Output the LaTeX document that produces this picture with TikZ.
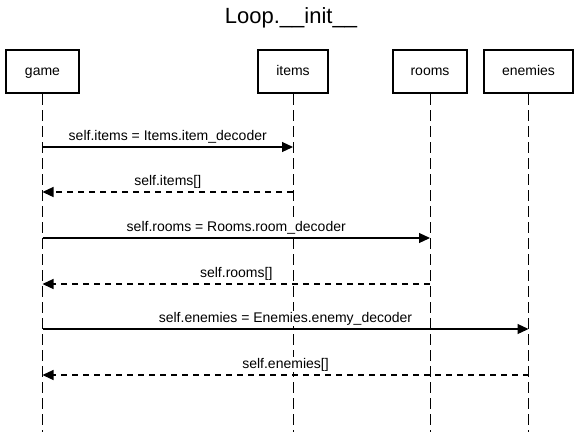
\documentclass[tikz,border=0pt]{standalone}
\usepackage{fontspec}
\setmainfont{Liberation Sans}
\usetikzlibrary{arrows.meta}
\begin{document}
\begin{tikzpicture}[x=1pt,y=-1pt,
  actor/.style={draw, line width=2.3pt, minimum height=43pt, inner sep=0pt, text height=10pt, text depth=3pt, font=\fontsize{14}{16}\selectfont},
  lifeline/.style={line width=1pt, dash pattern=on 11pt off 5pt},
  call/.style={line width=1.2pt, -{Triangle[length=11pt,width=10pt]}},
  reply/.style={line width=1.2pt, dash pattern=on 6pt off 5pt, -{Triangle[length=11pt,width=10pt]}},
  msg/.style={font=\fontsize{14}{16}\selectfont, fill=white, inner sep=1pt, anchor=base, yshift=6.5pt}]
\useasboundingbox (0,0) rectangle (581,432);
\fill[white] (0,0) rectangle (581,432);

\node[font=\fontsize{22}{26}\selectfont, anchor=base, inner sep=0pt] (title) at (291,23) {Loop.\_\_init\_\_};

\node[actor, minimum width=73pt] (game) at (42.5,71.5) {game};
\node[actor, minimum width=70pt] (items) at (293,71.5) {items};
\node[actor, minimum width=74pt] (rooms) at (430,71.5) {rooms};
\node[actor, minimum width=89pt] (enemies) at (528.5,71.5) {enemies};

\coordinate (gameEnd) at (42.5,432);
\coordinate (itemsEnd) at (293,432);
\coordinate (roomsEnd) at (430,432);
\coordinate (enemiesEnd) at (528.5,432);

\draw[lifeline] (game.south) -- (gameEnd);
\draw[lifeline] (items.south) -- (itemsEnd);
\draw[lifeline] (rooms.south) -- (roomsEnd);
\draw[lifeline] (enemies.south) -- (enemiesEnd);

\coordinate (g1) at (42.5,147);  \coordinate (i1) at (293,147);
\coordinate (g2) at (42.5,192);  \coordinate (i2) at (293,192);
\coordinate (g3) at (42.5,238);  \coordinate (r3) at (430,238);
\coordinate (g4) at (42.5,284);  \coordinate (r4) at (430,284);
\coordinate (g5) at (42.5,329);  \coordinate (e5) at (528.5,329);
\coordinate (g6) at (42.5,375);  \coordinate (e6) at (528.5,375);

\draw[call] (g1) -- node[msg, midway] (m1) {self.items = Items.item\_decoder} (i1);
\draw[reply] (i2) -- node[msg, midway] (m2) {self.items[]} (g2);
\draw[call] (g3) -- node[msg, midway] (m3) {self.rooms = Rooms.room\_decoder} (r3);
\draw[reply] (r4) -- node[msg, midway] (m4) {self.rooms[]} (g4);
\draw[call] (g5) -- node[msg, midway] (m5) {self.enemies = Enemies.enemy\_decoder} (e5);
\draw[reply] (e6) -- node[msg, midway] (m6) {self.enemies[]} (g6);
\end{tikzpicture}
\end{document}
